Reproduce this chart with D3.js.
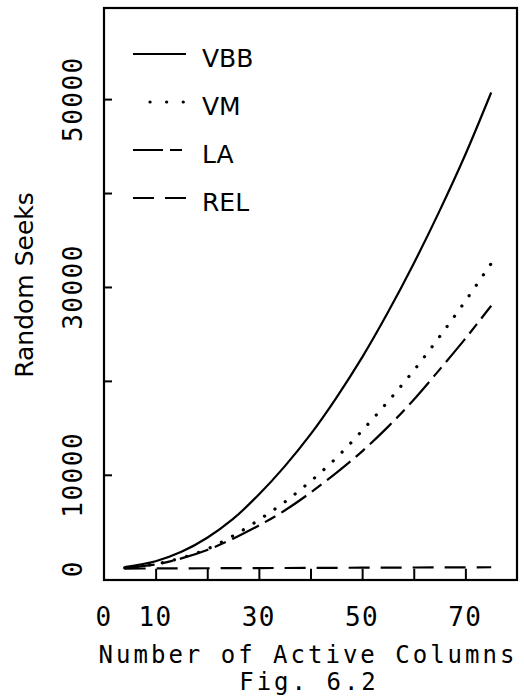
<!DOCTYPE html>
<html>
  <head>
    <meta charset="utf-8">
    <title>Fig. 6.2</title>
    <script src="https://d3js.org/d3.v7.min.js"></script>
    <style>
      body { margin: 0; background: #fff; }
      svg { display: block; }
      .mono { font-family: "DejaVu Sans Mono", monospace; fill: #000; }
      .sans { font-family: "DejaVu Sans", sans-serif; fill: #000; }
      .axis path { display: none; }
      .axis line { stroke: #000; stroke-width: 2; }
    </style>
  </head>

  <body>
    <svg id="chart" width="524" height="700"></svg>

    <script>
      // data
      cols = [4, 10, 15, 20, 25, 30, 35, 40, 45, 50, 55, 60, 65, 70, 75];
      vbb = [180, 800, 1800, 3300, 5300, 7900, 10900, 14300, 18200, 22500, 27300, 32500, 38100, 44100, 50700];
      vm = [90, 500, 1150, 2100, 3500, 5200, 7100, 9300, 11800, 14700, 17800, 21100, 24700, 28500, 32500];
      la = [90, 450, 1100, 2000, 3200, 4600, 6200, 8100, 10200, 12500, 15100, 18000, 21200, 24500, 28000];
      rel = [20, 30, 40, 50, 60, 70, 80, 90, 100, 110, 120, 130, 140, 150, 160];
      seriesNames = ["VBB", "VM", "LA", "REL"];
      xTickLabels = [0, 10, 30, 50, 70];
      xTickMarks = [10, 20, 30, 40, 50, 60, 70];
      yTickLabels = [0, 10000, 30000, 50000];
      yTickMarks = [10000, 20000, 30000, 40000, 50000];

      // layout
      frame = { left: 104, right: 517, top: 8, bottom: 580 };
      dashes = ["none", "0.1 12.5", "30 7 12 7", "21 11"];
      legendDashes = ["none", "0.1 16.5", "30 7 12 7", "21 11"];

      svg = d3.select("#chart");

      x = d3.scaleLinear()
        .domain([0, 80])
        .range([frame.left, frame.right]);
      y = d3.scaleLinear()
        .domain([-1200, 59700])
        .range([frame.bottom, frame.top]);

      // frame
      svg.append("rect")
        .attr("x", frame.left)
        .attr("y", frame.top)
        .attr("width", frame.right - frame.left)
        .attr("height", frame.bottom - frame.top)
        .attr("fill", "none")
        .attr("stroke", "#000")
        .attr("stroke-width", 2.2);

      // inner tick marks
      svg.append("g")
        .attr("class", "axis")
        .attr("transform", "translate(0," + frame.bottom + ")")
        .call(d3.axisBottom(x).tickValues(xTickMarks).tickSize(-(frame.bottom - y(0))).tickFormat(""));
      svg.append("g")
        .attr("class", "axis")
        .attr("transform", "translate(" + frame.left + ",0)")
        .call(d3.axisLeft(y).tickValues(yTickMarks).tickSize(-8).tickFormat(""));

      // tick labels
      svg.append("g")
        .selectAll("text")
        .data(xTickLabels)
        .join("text")
          .attr("class", "mono")
          .attr("x", function(d) { return x(d); })
          .attr("y", 626)
          .attr("text-anchor", "middle")
          .attr("font-size", 26)
          .attr("letter-spacing", 1.5)
          .text(function(d) { return d; });
      svg.append("g")
        .selectAll("text")
        .data(yTickLabels)
        .join("text")
          .attr("class", "mono")
          .attr("transform", function(d) { return "translate(82," + y(d) + ") rotate(-90)"; })
          .attr("text-anchor", "middle")
          .attr("font-size", 26)
          .attr("letter-spacing", 1.5)
          .text(function(d) { return d; });

      // axis titles
      svg.append("text")
        .attr("class", "mono")
        .attr("x", 308)
        .attr("y", 663)
        .attr("text-anchor", "middle")
        .attr("font-size", 24)
        .attr("letter-spacing", 3)
        .text("Number of Active Columns");
      svg.append("text")
        .attr("class", "mono")
        .attr("x", 309)
        .attr("y", 690)
        .attr("text-anchor", "middle")
        .attr("font-size", 24)
        .attr("letter-spacing", 3)
        .text("Fig. 6.2");
      svg.append("text")
        .attr("class", "sans")
        .attr("transform", "translate(33,285) rotate(-90)")
        .attr("text-anchor", "middle")
        .attr("font-size", 25)
        .text("Random Seeks");

      // curves
      line = d3.line()
        .x(function(d) { return x(d[0]); })
        .y(function(d) { return y(d[1]); })
        .curve(d3.curveCatmullRom);

      [vbb, vm, la, rel].forEach(function(vals, i) {
        svg.append("path")
          .datum(cols.map(function(c, j) { return [c, vals[j]]; }))
          .attr("d", line)
          .attr("fill", "none")
          .attr("stroke", "#000")
          .attr("stroke-width", i === 1 ? 3.2 : 2.2)
          .attr("stroke-linecap", i === 1 ? "round" : "butt")
          .attr("stroke-dasharray", dashes[i]);
      });

      // legend
      legend = svg.append("g")
        .selectAll("g")
        .data(seriesNames)
        .join("g")
          .attr("transform", function(d, i) { return "translate(133," + (54 + i * 48) + ")"; });
      legend.append("line")
        .attr("x1", function(d, i) { return i === 1 ? 17 : 0; })
        .attr("x2", 53)
        .attr("stroke", "#000")
        .attr("stroke-width", function(d, i) { return i === 1 ? 3.2 : 2.2; })
        .attr("stroke-linecap", function(d, i) { return i === 1 ? "round" : "butt"; })
        .attr("stroke-dasharray", function(d, i) { return legendDashes[i]; });
      legend.append("text")
        .attr("class", "sans")
        .attr("x", 69)
        .attr("y", 13)
        .attr("font-size", 25)
        .text(function(d) { return d; });
    </script>
  </body>
</html>
